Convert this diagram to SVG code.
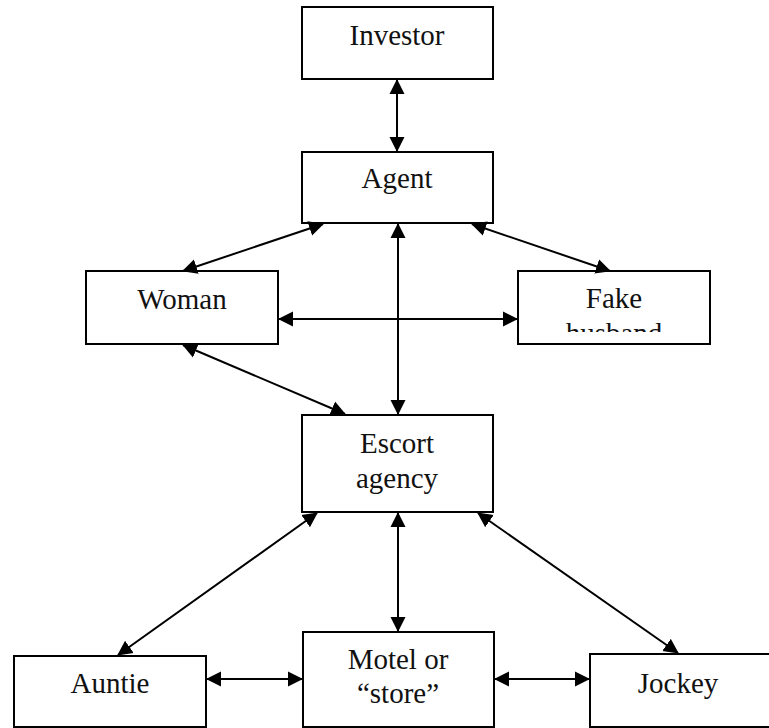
<svg xmlns="http://www.w3.org/2000/svg" width="769" height="728" viewBox="0 0 769 728">
<style>
.box{fill:#fff;stroke:#000;stroke-width:2}
.lbl{font-family:"Liberation Serif","Times New Roman",serif;font-size:29px;fill:#111;text-anchor:middle}
.conn line{stroke:#000;stroke-width:2;marker-start:url(#ah);marker-end:url(#ah)}
</style>
<defs>
<marker id="ah" markerUnits="userSpaceOnUse" markerWidth="16" markerHeight="16" refX="14" refY="7.5" orient="auto-start-reverse" viewBox="0 0 16 15">
<path d="M0,0 L15,7.5 L0,15 z" fill="#000"/>
</marker>
<clipPath id="fakeclip"><rect x="518" y="271" width="192" height="61"/></clipPath>
</defs>
<rect width="769" height="728" fill="#fff"/>
<g id="investor"><rect class="box" x="302" y="7" width="191" height="72"/><text class="lbl" x="397" y="45">Investor</text></g>
<g id="agent"><rect class="box" x="302" y="152" width="191" height="71"/><text class="lbl" x="397" y="188">Agent</text></g>
<g id="woman"><rect class="box" x="86" y="271" width="192" height="73"/><text class="lbl" x="182" y="309">Woman</text></g>
<g id="fake-husband"><rect class="box" x="518" y="271" width="192" height="73"/><g clip-path="url(#fakeclip)"><text class="lbl" x="614" y="308">Fake</text><text class="lbl" x="614" y="343">husband</text></g></g>
<g id="escort-agency"><rect class="box" x="302" y="415" width="191" height="97"/><text class="lbl" x="397" y="453">Escort</text><text class="lbl" x="397" y="488">agency</text></g>
<g id="auntie"><rect class="box" x="14" y="656" width="192" height="71"/><text class="lbl" x="110" y="693">Auntie</text></g>
<g id="motel"><rect class="box" x="303" y="632" width="191" height="95"/><text class="lbl" x="398" y="669">Motel or</text><text class="lbl" x="398" y="703">“store”</text></g>
<g id="jockey"><rect class="box" x="590" y="654" width="190" height="73"/><text class="lbl" x="678" y="693">Jockey</text></g>
<g class="conn" id="connectors">
<line x1="397" y1="80" x2="397" y2="151"/>
<line x1="323" y1="224" x2="183" y2="271"/>
<line x1="472" y1="224" x2="610" y2="271"/>
<line x1="398" y1="224" x2="398" y2="414"/>
<line x1="279" y1="319" x2="517" y2="319"/>
<line x1="183" y1="345" x2="345" y2="414"/>
<line x1="317" y1="513" x2="118" y2="655"/>
<line x1="398" y1="513" x2="398" y2="631"/>
<line x1="478" y1="513" x2="678" y2="653"/>
<line x1="207" y1="679" x2="302" y2="679"/>
<line x1="495" y1="679" x2="589" y2="679"/>
</g>
</svg>
